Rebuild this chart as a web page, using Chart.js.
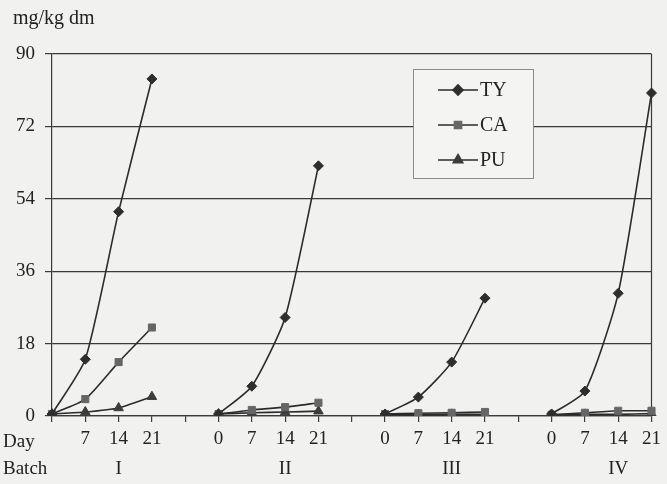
<!DOCTYPE html>
<html lang="en">
<head>
<meta charset="UTF-8">
<title>mg/kg dm</title>
<script src="https://cdn.jsdelivr.net/npm/chart.js"></script>
<style>
  html, body { margin: 0; padding: 0; background: #f1f1ef; }
  #wrap { width: 667px; height: 484px; position: relative; }
</style>
</head>
<body>
<div id="wrap"><canvas id="myChart" width="667" height="484"></canvas></div>
<script>
  // values, one row per batch, columns = days 0, 7, 14, 21
  const days = ['0', '7', '14', '21'];
  const batches = ['I', 'II', 'III', 'IV'];
  const yTicks = [0, 18, 36, 54, 72, 90];
  const tyValues = [[0.5, 14.1, 50.8, 83.8], [0.5, 7.4, 24.5, 62.2], [0.5, 4.7, 13.4, 29.3], [0.5, 6.2, 30.5, 80.3]];
  const caValues = [[0.5, 4.2, 13.4, 22.0], [0.5, 1.5, 2.2, 3.3], [0.5, 0.7, 0.8, 1.0], [0.3, 0.8, 1.3, 1.3]];
  const puValues = [[0.5, 1.0, 2.0, 4.8], [0.5, 0.8, 1.0, 1.2], [0.3, 0.3, 0.4, 0.4], [0.3, 0.4, 0.4, 0.6]];

  // category labels with an empty slot between batches
  const labels = [];
  batches.forEach((b, i) => {
    days.forEach(d => labels.push(d));
    if (i < batches.length - 1) labels.push('');
  });
  labels[0] = ''; // "Day" sits where the first 0 would be

  function flat(rows) {
    const out = [];
    rows.forEach((r, i) => {
      r.forEach(v => out.push(v));
      if (i < rows.length - 1) out.push(null);
    });
    return out;
  }

  const ink = '#2b2b2b';
  const font = 'Liberation Serif, Times New Roman, serif';

  function series(label, rows, style, radius, color) {
    return {
      label: label,
      data: flat(rows),
      borderColor: ink,
      borderWidth: 1.6,
      pointStyle: style,
      pointRadius: radius,
      pointBackgroundColor: color,
      pointBorderColor: color,
      pointBorderWidth: 1,
      tension: 0.2,
      spanGaps: false
    };
  }

  const extras = {
    id: 'extras',
    beforeDraw(chart) {
      const c = chart.ctx;
      c.save();
      c.fillStyle = '#f1f1ef';
      c.fillRect(0, 0, chart.width, chart.height);
      c.restore();
    },
    beforeDatasetsDraw(chart) {
      const c = chart.ctx, a = chart.chartArea;
      c.save();
      c.strokeStyle = '#3a3a3a';
      c.lineWidth = 1.2;
      c.beginPath();
      c.moveTo(a.right, a.top);
      c.lineTo(a.right, a.bottom);
      c.stroke();
      c.restore();
    },
    afterDraw(chart) {
      const c = chart.ctx, x = chart.scales.x;
      c.save();
      c.fillStyle = '#222';
      c.font = '20px ' + font;
      c.textBaseline = 'alphabetic';
      c.textAlign = 'left';
      c.fillText('mg/kg dm', 13, 24);
      c.font = '19px ' + font;
      c.fillText('Day', 3, 447);
      c.fillText('Batch', 3, 474);
      c.textAlign = 'center';
      batches.forEach((b, i) => {
        c.fillText(b, x.getPixelForValue(i * 5 + 2), 474);
      });

      // legend box
      const bx = 413, by = 69, bw = 120, bh = 109;
      c.fillStyle = '#f4f4f2';
      c.fillRect(bx, by, bw, bh);
      c.strokeStyle = '#8a8a8a';
      c.lineWidth = 1;
      c.strokeRect(bx + 0.5, by + 0.5, bw, bh);
      c.font = '20px ' + font;
      c.textAlign = 'left';
      c.textBaseline = 'middle';
      chart.data.datasets.forEach((ds, i) => {
        const ly = 90 + i * 35;
        c.strokeStyle = ink;
        c.lineWidth = 1.6;
        c.beginPath();
        c.moveTo(438, ly);
        c.lineTo(478, ly);
        c.stroke();
        c.fillStyle = ds.pointBackgroundColor;
        c.strokeStyle = ds.pointBorderColor;
        Chart.helpers.drawPoint(c, { pointStyle: ds.pointStyle, radius: ds.pointRadius, borderWidth: 1 }, 458, ly);
        c.fillStyle = '#222';
        c.fillText(ds.label, 480, ly + 1);
      });
      c.restore();
    }
  };

  const ctx = document.getElementById('myChart').getContext('2d');
  const myChart = new Chart(ctx, {
    type: 'line',
    data: {
      labels: labels,
      datasets: [
        series('TY', tyValues, 'rectRot', 5, '#2e2e2e'),
        series('CA', caValues, 'rect', 5, '#666666'),
        series('PU', puValues, 'triangle', 5.5, '#3c3c3c')
      ]
    },
    options: {
      responsive: false,
      animation: false,
      layout: { padding: { left: 0, top: 54, right: 6, bottom: 0 } },
      plugins: { legend: { display: false }, tooltip: { enabled: false } },
      scales: {
        x: {
          type: 'category',
          offset: false,
          afterFit(s) { s.height = 68; },
          grid: { drawOnChartArea: false, tickLength: 6, color: '#3a3a3a', lineWidth: 1.2 },
          border: { color: '#3a3a3a', width: 1.2 },
          ticks: { color: '#222', font: { family: font, size: 19 }, padding: 6, autoSkip: false, maxRotation: 0 }
        },
        y: {
          min: 0,
          max: 90,
          afterFit(s) { s.width = 52; },
          afterBuildTicks(s) { s.ticks = yTicks.map(v => ({ value: v })); },
          grid: { color: '#3a3a3a', lineWidth: 1.2, tickLength: 7 },
          border: { color: '#3a3a3a', width: 1.2 },
          ticks: { color: '#222', font: { family: font, size: 19 }, padding: 10 }
        }
      }
    },
    plugins: [extras]
  });
</script>
</body>
</html>
